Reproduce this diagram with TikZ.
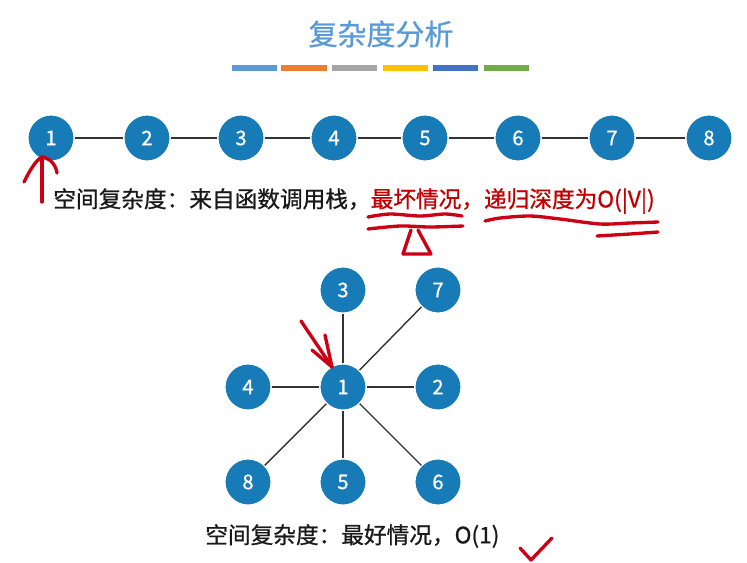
\documentclass[tikz,border=0pt]{standalone}
\usepackage{fontspec}
\setmainfont{Noto Sans CJK SC}
\newfontfamily\medfont{Noto Sans CJK SC}[FakeBold=0.9]
\definecolor{nodeblue}{RGB}{22,123,183}
\definecolor{titleblue}{RGB}{91,155,213}
\definecolor{inkred}{RGB}{204,0,20}
\definecolor{textred}{RGB}{192,0,0}
\definecolor{barA}{RGB}{91,155,213}
\definecolor{barB}{RGB}{237,125,49}
\definecolor{barC}{RGB}{165,165,165}
\definecolor{barD}{RGB}{255,192,0}
\definecolor{barE}{RGB}{68,114,196}
\definecolor{barF}{RGB}{112,173,71}
\tikzset{
  vtx/.style={circle, fill=nodeblue, draw=white, line width=0.6pt,
    minimum size=0.92cm, inner sep=0pt, text=white,
    font=\medfont\fontsize{11.5}{13}\selectfont},
  edge/.style={draw=black!80, line width=0.8pt},
  pen/.style={inkred, line width=1.9pt, line cap=round, line join=round},
  caption/.style={anchor=west, inner sep=0pt, text=black!90,
    font=\medfont\fontsize{12.9}{16}\selectfont}
}
\begin{document}
\begin{tikzpicture}[x=0.02cm, y=-0.02cm]
  \useasboundingbox (0,0) rectangle (747,562);
  % title and colour strip
  \node[text=titleblue, font=\medfont\fontsize{16.5}{20}\selectfont] (title) at (381,34) {复杂度分析};
  \foreach \c/\a/\b in {barA/232/277, barB/281/327, barC/332/377, barD/383/428, barE/433/478, barF/484/529}
    \fill[\c] (\a,65) rectangle (\b,71);
  % chain
  \foreach \i/\x in {1/51,2/147,3/241,4/334,5/425,6/518,7/612,8/709}
    \node[vtx] (c\i) at (\x,138) {\i};
  \foreach \i/\j in {1/2,2/3,3/4,4/5,5/6,6/7,7/8}
    \draw[edge] (c\i) -- (c\j);
  \node[caption] (worst) at (53,201) {空间复杂度：来自函数调用栈，\textcolor{textred}{最坏情况，递归深度为O(|V|)}};
  % star
  \node[vtx] (s1) at (343,387) {1};
  \node[vtx] (s3) at (343,290) {3};
  \node[vtx] (s7) at (438,290) {7};
  \node[vtx] (s4) at (248,387) {4};
  \node[vtx] (s2) at (438,387) {2};
  \node[vtx] (s8) at (248,482) {8};
  \node[vtx] (s5) at (343,482) {5};
  \node[vtx] (s6) at (438,482) {6};
  \foreach \k in {3,7,4,2,8,5,6}
    \draw[edge] (s1) -- (s\k);
  \node[caption] (best) at (205,536) {空间复杂度：最好情况，O(1)};
  % red ink
  \draw[pen] (42,202) -- (42,157);
  \draw[pen] (24,182) .. controls (30,170) and (36,160) .. (42,157) .. controls (50,158) and (56,165) .. (57,173);
  \draw[pen] plot[smooth] coordinates {(368,217) (390,214) (420,216) (445,214) (462,216)};
  \draw[pen] plot[smooth] coordinates {(368,229) (400,226) (430,227) (463,226)};
  \draw[pen] (411,230) -- (403,254) -- (431,254) -- (418,230);
  \draw[pen] plot[smooth] coordinates {(485,221) (500,218) (530,216) (560,219) (600,224) (630,223) (658,222)};
  \draw[pen] plot[smooth] coordinates {(597,236) (630,234) (658,232)};
  \draw[pen] (301,321) -- (332,367);
  \draw[pen] (312,350) -- (332,367) -- (325,335);
  \draw[pen] (520,548) -- (531,560) -- (552,538);
\end{tikzpicture}
\end{document}
